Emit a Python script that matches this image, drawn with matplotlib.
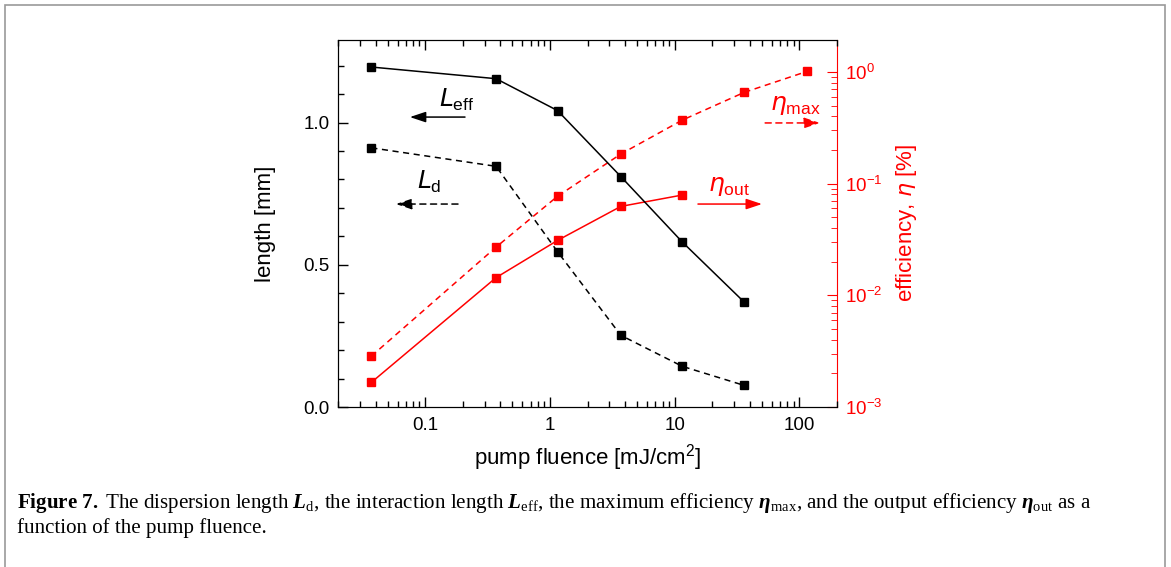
import math
import matplotlib
matplotlib.use("Agg")
import matplotlib.pyplot as plt
from matplotlib.patches import Rectangle
from matplotlib.ticker import LogLocator, MultipleLocator, FixedLocator, NullFormatter, FuncFormatter

plt.rcParams['font.family'] = ['Liberation Sans', 'DejaVu Sans']
plt.rcParams['mathtext.fontset'] = 'custom'
plt.rcParams['mathtext.rm'] = 'Liberation Serif'
plt.rcParams['mathtext.it'] = 'Liberation Serif:italic'
plt.rcParams['mathtext.bf'] = 'Liberation Serif:bold'
plt.rcParams['mathtext.bfit'] = 'Liberation Serif:bold:italic'

# pump fluence [mJ/cm^2]
fluence = [0.037, 0.37, 1.15, 3.7, 11.5, 36, 115]
# lengths [mm]
L_eff = [1.195, 1.154, 1.042, 0.810, 0.580, 0.369]
L_d = [0.911, 0.846, 0.546, 0.252, 0.143, 0.076]
# efficiencies [%]
eta_max = [0.00285, 0.0270, 0.0770, 0.184, 0.370, 0.655, 1.01]
eta_out = [0.00166, 0.0144, 0.0310, 0.0625, 0.0790]

W, H = 1171, 567
fig = plt.figure(figsize=(W / 100, H / 100), dpi=100)

# frame around the figure
fig.patches.append(Rectangle((5 / W, -0.1), 1160 / W, 1.1 - 5 / H, transform=fig.transFigure,
                             fill=False, edgecolor='#999999', linewidth=1.2))

ax = fig.add_axes([338 / W, 1 - 407 / H, 499 / W, 367 / H])
ax2 = ax.twinx()
ax.set_zorder(2)
ax.patch.set_visible(False)

ax.set_xscale('log')
ax.set_xlim(0.02, 200)
ax.set_ylim(0, 1.29)
ax2.set_yscale('log')
ax2.set_ylim(1e-3, 1.93)

ms = 6
ax.plot(fluence[:6], L_eff, '-s', color='black', lw=1.1, ms=ms)
ax.plot(fluence[:6], L_d, '--s', color='black', lw=1.1, ms=ms, dashes=(4, 3))
ax2.plot(fluence, eta_max, '--s', color='red', lw=1.1, ms=ms, dashes=(4, 3))
ax2.plot(fluence[:5], eta_out, '-s', color='red', lw=1.1, ms=ms)

ax.set_xticks([0.1, 1, 10, 100])
ax.set_xticklabels(['0.1', '1', '10', '100'])
ax.xaxis.set_minor_locator(LogLocator(base=10, subs=range(2, 10), numticks=20))
ax.xaxis.set_minor_formatter(NullFormatter())
ax.yaxis.set_major_locator(FixedLocator([0.0, 0.5, 1.0]))
ax.set_yticklabels(['0.0', '0.5', '1.0'])
ax.yaxis.set_minor_locator(MultipleLocator(0.1))
ax.tick_params(axis='both', which='both', direction='in', labelsize=13.5, width=1)
ax.tick_params(axis='x', which='both', top=True)
ax.tick_params(which='major', length=7)
ax.tick_params(which='minor', length=4)
ax.tick_params(axis='x', pad=7)
ax.tick_params(axis='y', pad=6)

ax2.yaxis.set_major_locator(LogLocator(base=10, numticks=10))
ax2.yaxis.set_minor_locator(LogLocator(base=10, subs=range(2, 10), numticks=20))
ax2.yaxis.set_minor_formatter(NullFormatter())
ax2.yaxis.set_major_formatter(FuncFormatter(lambda v, p: r'$\mathregular{10^{%d}}$' % round(math.log10(v))))
ax2.tick_params(axis='y', which='both', direction='in', colors='red', labelsize=13.5, pad=6)
ax2.tick_params(which='major', length=7)
ax2.tick_params(which='minor', length=4)

ax2.spines['right'].set_color('red')
ax.spines['right'].set_visible(False)

ax.set_xlabel(r'pump fluence [mJ/cm$^\mathregular{2}$]', fontsize=16, labelpad=6)
ax.set_ylabel('length [mm]', fontsize=16, labelpad=20)
ax2.set_ylabel(r'efficiency, $\eta$ [%]', fontsize=16, color='red', labelpad=8)
ax2.yaxis.label.set_math_fontfamily('dejavusans')
ax.xaxis.label.set_math_fontfamily('dejavusans')

# in-plot labels with arrows
def lab(txt, xy, color):
    t = ax.text(xy[0], xy[1], txt, transform=ax.transAxes, ha='center', va='center',
                fontsize=18, color=color)
    t.set_math_fontfamily('dejavusans')

def arrow(tail, head, color, ls):
    ax.annotate('', xy=head, xytext=tail, xycoords='axes fraction', textcoords='axes fraction',
                arrowprops=dict(arrowstyle='-|>,head_length=0.6,head_width=0.2', color=color, lw=1.1,
                                linestyle=ls, mutation_scale=16, shrinkA=0, shrinkB=0))

lab(r'$L_\mathregular{eff}$', (0.237, 0.838), 'black')
arrow((0.2545, 0.790), (0.144, 0.790), 'black', '-')
lab(r'$L_\mathregular{d}$', (0.182, 0.612), 'black')
arrow((0.2405, 0.553), (0.116, 0.553), 'black', (0, (4, 3)))
lab(r'$\eta_\mathregular{max}$', (0.916, 0.822), 'red')
arrow((0.856, 0.774), (0.966, 0.774), 'red', (0, (4, 3)))
lab(r'$\eta_\mathregular{out}$', (0.784, 0.602), 'red')
arrow((0.7214, 0.553), (0.8497, 0.553), 'red', '-')

# caption
cap1 = (r'$\mathbf{Figure\ 7.}$ The dispersion length $\mathbfit{L}_\mathrm{d}$, the interaction length '
        r'$\mathbfit{L}_\mathrm{eff}$, the maximum efficiency $\mathbfit{\eta}_\mathrm{max}$, and the output '
        r'efficiency $\mathbfit{\eta}_\mathrm{out}$ as a')
fig.text(17 / W, 1 - 503 / H, cap1, fontsize=15.1, va='center', ha='left', family='Liberation Serif')
fig.text(17 / W, 1 - 528 / H, 'function of the pump fluence.', fontsize=15.1, va='center', ha='left',
         family='Liberation Serif')

fig.savefig('out.png', dpi=100)
